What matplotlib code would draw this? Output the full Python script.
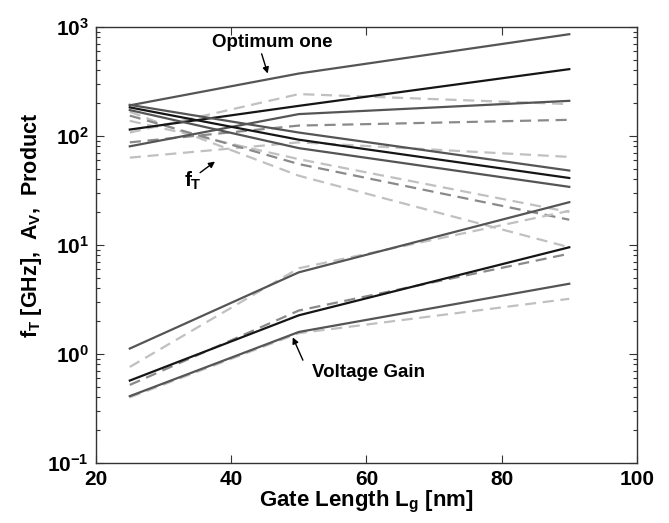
import matplotlib
matplotlib.use("Agg")
import matplotlib.pyplot as plt
from matplotlib.ticker import FixedLocator, FixedFormatter, LogLocator, NullFormatter

plt.rcParams['font.family'] = ['Liberation Sans', 'DejaVu Sans']
plt.rcParams['font.weight'] = 'bold'
plt.rcParams['mathtext.fontset'] = 'custom'
plt.rcParams['mathtext.rm'] = 'Liberation Sans:bold'
plt.rcParams['mathtext.it'] = 'Liberation Sans:bold'
plt.rcParams['mathtext.bf'] = 'Liberation Sans:bold'
plt.rcParams['mathtext.sf'] = 'Liberation Sans:bold'

# Gate length [nm]
gate_length = [25, 50, 90]

# Product (fT * Av)
prod_A = [190, 372, 853]   # solid dark gray ("Optimum one")
prod_B = [114, 188, 408]   # solid black
prod_C = [80, 158, 209]    # solid dark gray
prod_E = [107, 241, 195]   # dashed light gray
prod_D = [87, 124, 140]    # dashed medium gray
prod_F = [63, 87, 64]      # dashed light gray

# fT [GHz]
ft_A = [172, 77, 34]
ft_B = [182, 92, 41]
ft_C = [192, 107, 48]
ft_E = [166, 43, 9.5]
ft_D = [153, 55, 17]
ft_F = [137, 61, 20]

# Voltage gain Av
av_A = [1.12, 5.6, 24.6]
av_B = [0.57, 2.26, 9.5]
av_C = [0.41, 1.59, 4.4]
av_E = [0.76, 6.1, 20.5]
av_D = [0.52, 2.5, 8.3]
av_F = [0.40, 1.55, 3.2]

x_ticks = [20, 40, 60, 80, 100]
y_ticks = [0.1, 1, 10, 100, 1000]
y_tick_labels = [r'$10^{-1}$', r'$10^{0}$', r'$10^{1}$', r'$10^{2}$', r'$10^{3}$']

fig = plt.figure(figsize=(6.69, 5.23), dpi=100)
ax = fig.add_axes([0.1435, 0.1147, 0.8085, 0.8343])

dark = '#555555'
black = '#151515'
medium = '#8a8a8a'
light = '#c0c0c0'
lw = 1.6
dash = (0, (5, 3))

styles = {
    'A': dict(color=dark, lw=lw, ls='-'),
    'B': dict(color=black, lw=lw, ls='-'),
    'C': dict(color=dark, lw=lw, ls='-'),
    'E': dict(color=light, lw=lw, ls=dash),
    'D': dict(color=medium, lw=lw, ls=dash),
    'F': dict(color=light, lw=lw, ls=dash),
}

series = [
    ('E', prod_E), ('F', prod_F), ('D', prod_D),
    ('E', ft_E), ('F', ft_F), ('D', ft_D),
    ('E', av_E), ('F', av_F), ('D', av_D),
    ('A', prod_A), ('B', prod_B), ('C', prod_C),
    ('A', ft_A), ('B', ft_B), ('C', ft_C),
    ('A', av_A), ('B', av_B), ('C', av_C),
]
for key, vals in series:
    ax.plot(gate_length, vals, **styles[key])

ax.set_yscale('log')
ax.set_xlim(20, 100)
ax.set_ylim(0.1, 1000)
ax.xaxis.set_major_locator(FixedLocator(x_ticks))
ax.yaxis.set_major_locator(FixedLocator(y_ticks))
ax.yaxis.set_major_formatter(FixedFormatter(y_tick_labels))
ax.yaxis.set_minor_locator(LogLocator(base=10, subs=range(2, 10)))
ax.yaxis.set_minor_formatter(NullFormatter())
ax.tick_params(which='both', direction='in', top=True, right=True, labelsize=15, width=0.8, color='#333333')
ax.tick_params(which='major', length=6)
ax.tick_params(which='minor', length=3)
ax.tick_params(axis='x', pad=5)
ax.tick_params(axis='y', pad=5)
for lab in ax.get_xticklabels():
    lab.set_fontweight('bold')
for sp in ax.spines.values():
    sp.set_linewidth(1.0)
    sp.set_color('#333333')

ax.set_xlabel(r'Gate Length $L_g$ [nm]', fontsize=16, fontweight='bold', labelpad=0)
ax.set_ylabel(r'$f_T$ [GHz],  $A_V$,  Product', fontsize=15.5, fontweight='bold')
ax.yaxis.set_label_coords(-0.097, 0.545)

arrow_kw = dict(arrowstyle='-|>', color='black', lw=1, shrinkA=0, shrinkB=0, mutation_scale=9)

ax.text(46.0, 711, 'Optimum one', fontsize=13.5, fontweight='bold', ha='center', va='center')
ax.annotate('', xy=(45.4, 372), xytext=(44.5, 564), arrowprops=arrow_kw)

ax.text(34.3, 38.8, r'$f_T$', fontsize=15, fontweight='bold', ha='center', va='center')
ax.annotate('', xy=(37.6, 58), xytext=(35.4, 45.9), arrowprops=arrow_kw)

ax.text(60.3, 0.68, 'Voltage Gain', fontsize=13.5, fontweight='bold', ha='center', va='center')
ax.annotate('', xy=(49.1, 1.42), xytext=(50.6, 0.876), arrowprops=arrow_kw)

fig.savefig('out.png', dpi=100)
